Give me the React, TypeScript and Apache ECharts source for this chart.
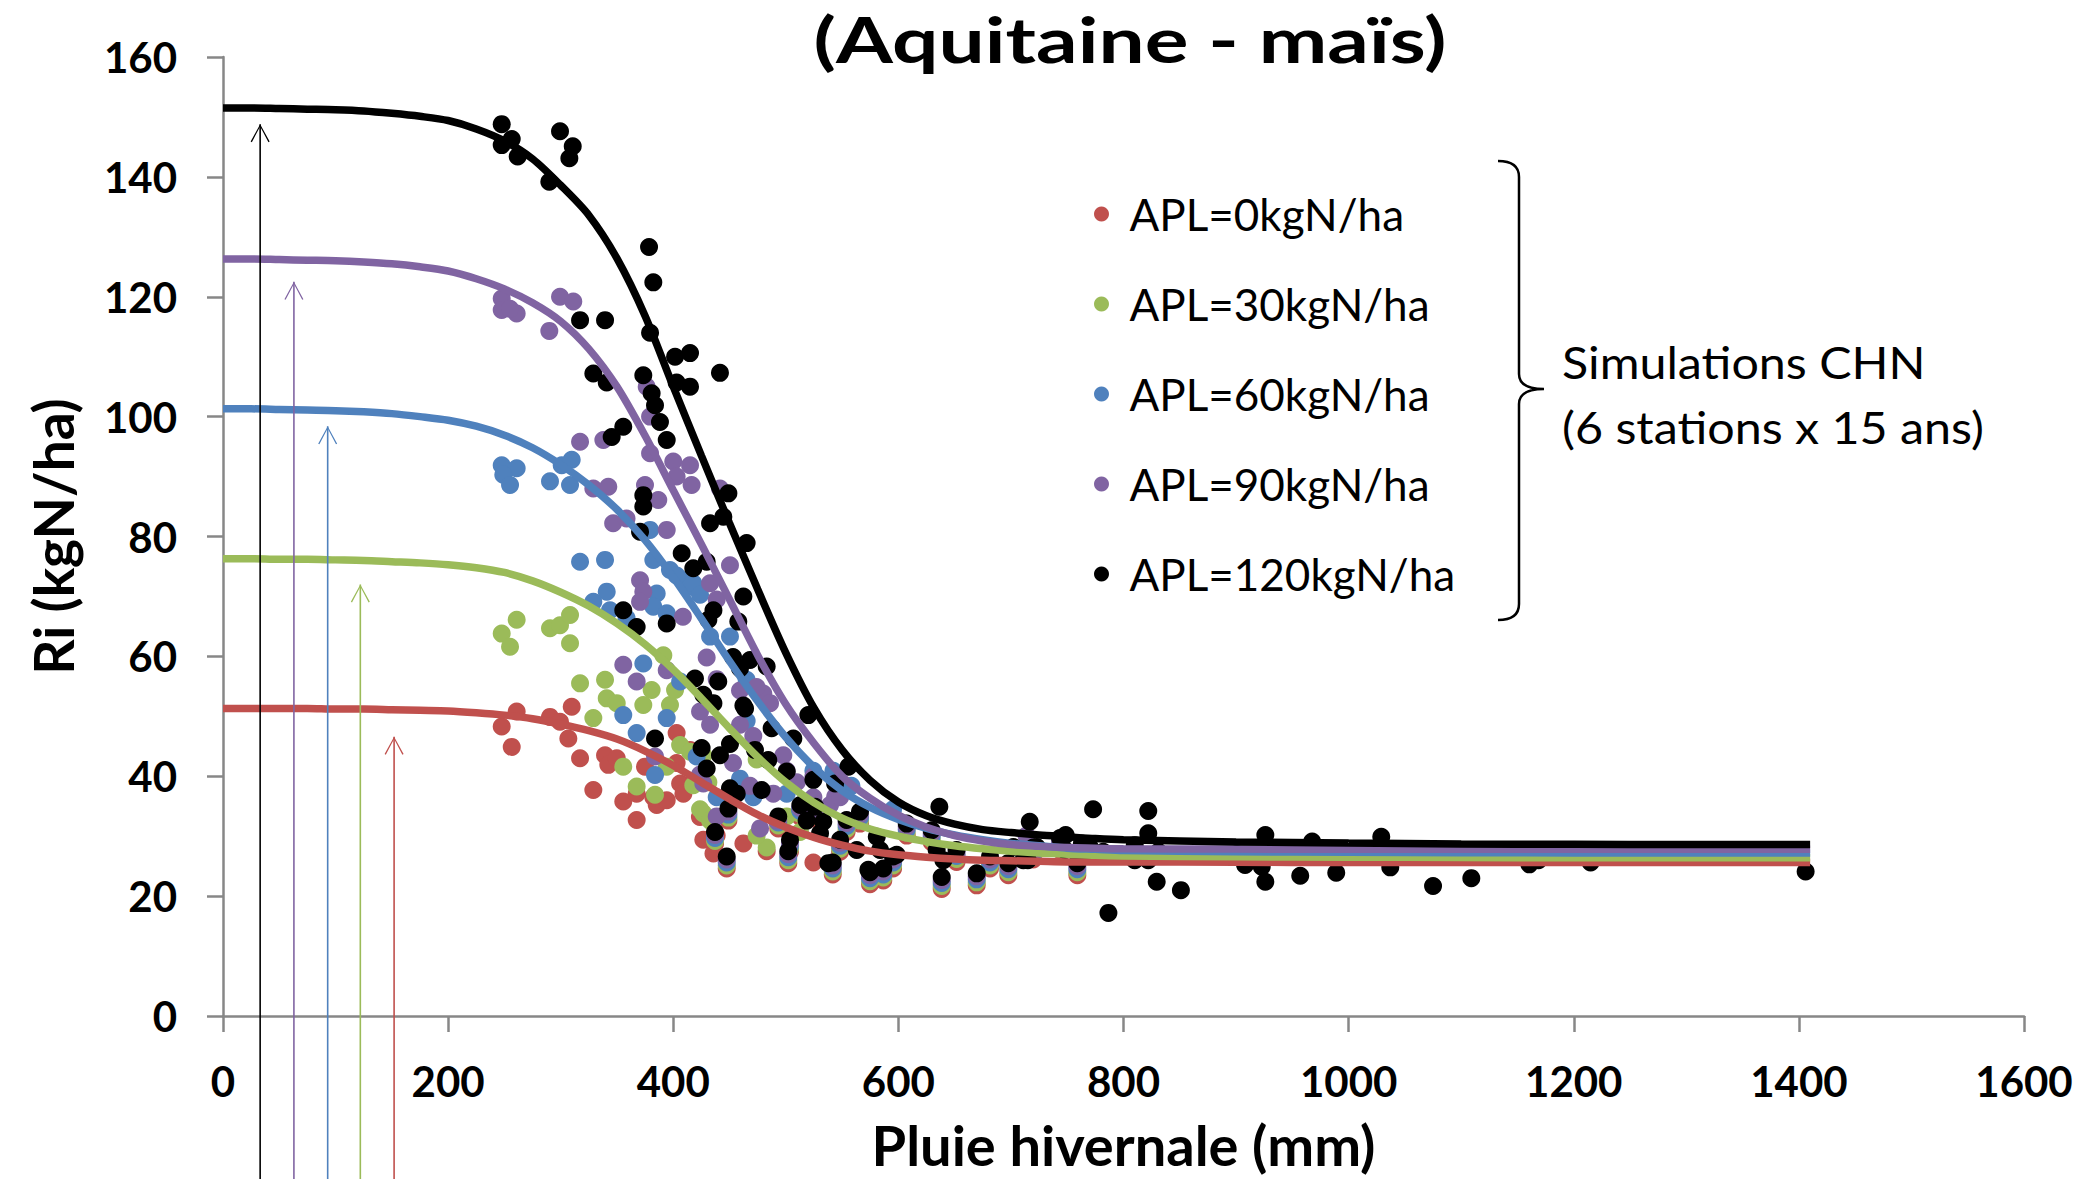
import React, { useEffect, useRef } from "react";
import * as echarts from "echarts";

// ---------------- DATA ----------------
const seriesNames = ["APL=0kgN/ha", "APL=30kgN/ha", "APL=60kgN/ha", "APL=90kgN/ha", "APL=120kgN/ha"];
const seriesColors = ["#C0504D", "#9BBB59", "#4F81BD", "#8064A2", "#000000"];

const titleText = "(Aquitaine - maïs)";
const xAxisName = "Pluie hivernale (mm)";
const yAxisName = "Ri (kgN/ha)";
const noteLines = ["Simulations CHN", "(6 stations x 15 ans)"];

// Simulated points (Pluie hivernale mm, Ri kgN/ha)
const apl0 = [
  [247.6, 48.3], [260.9, 50.8], [256.5, 44.9], [290.5, 49.9], [299.4, 49.1], [309.8, 51.6], [306.8, 46.3],
  [317.2, 43.0], [339.4, 43.5], [342.3, 41.9], [349.8, 43.0], [329.0, 37.7], [355.6, 35.8], [367.5, 32.7],
  [385.3, 35.2], [394.2, 36.0], [374.9, 41.6], [403.0, 47.2], [406.1, 38.8], [414.9, 44.4], [423.7, 33.2],
  [435.7, 27.1], [367.5, 37.1], [382.3, 36.5], [403.0, 42.2], [417.8, 39.0], [409.0, 37.1], [426.7, 29.4],
  [438.6, 30.1], [462.3, 28.8], [483.0, 27.5], [524.5, 25.6],
  [447.5, 24.6], [437.1, 28.7], [449.0, 32.6], [502.2, 25.5], [503.7, 27.4], [541.7, 23.6], [574.8, 22.0],
  [586.6, 22.6], [595.3, 24.6], [512.9, 33.2], [493.3, 31.3], [526.1, 32.9], [554.0, 30.7], [565.9, 32.1],
  [607.4, 30.1], [629.6, 29.0], [638.5, 21.2], [669.6, 21.8], [681.4, 24.6], [697.7, 23.5], [719.8, 26.1],
  [743.6, 27.7], [759.0, 23.5], [548.2, 27.4], [651.7, 25.7],
];
const apl30 = [
  [247.6, 63.8], [260.9, 66.1], [290.5, 64.7], [299.4, 65.2], [308.3, 66.9], [255.0, 61.6], [308.3, 62.2],
  [317.2, 55.5], [339.4, 56.1], [340.9, 53.0], [349.8, 52.2], [329.0, 49.7], [380.8, 54.4], [373.4, 51.9],
  [397.1, 51.9], [391.2, 60.2], [401.6, 54.4], [355.6, 41.6], [367.5, 38.3], [383.8, 36.9], [394.2, 41.6],
  [406.1, 45.2], [417.8, 38.5], [426.7, 33.8], [414.9, 44.1], [426.7, 43.5], [431.2, 39.0], [423.8, 34.5],
  [432.7, 32.6], [483.0, 28.1], [474.1, 42.8], [474.1, 30.1], [500.8, 33.3], [512.6, 30.7],
  [447.5, 25.1], [437.1, 29.2], [449.0, 33.1], [502.2, 26.0], [503.7, 27.9], [541.7, 24.1], [574.8, 22.5],
  [586.6, 23.1], [595.3, 25.1], [512.9, 33.7], [493.3, 31.8], [526.1, 33.4], [554.0, 31.2], [565.9, 32.6],
  [607.4, 30.6], [629.6, 29.5], [638.5, 21.7], [669.6, 22.3], [681.4, 25.1], [697.7, 24.0], [719.8, 26.6],
  [743.6, 28.2], [759.0, 24.0], [548.2, 27.9], [651.7, 26.2],
];
const apl60 = [
  [247.6, 91.9], [260.9, 91.4], [249.0, 90.3], [255.0, 88.6], [300.9, 91.9], [309.8, 92.8], [290.5, 89.2],
  [308.3, 88.6], [317.2, 75.8], [339.4, 76.1], [340.9, 70.8], [329.0, 69.1], [379.4, 81.1], [382.3, 76.1],
  [397.1, 74.4], [408.6, 72.7], [414.9, 71.6], [385.3, 70.5], [382.3, 68.3], [343.8, 67.7], [358.5, 66.4],
  [432.7, 63.3], [450.4, 63.3], [394.2, 67.2], [403.0, 73.5], [417.8, 72.2], [423.8, 70.3],
  [373.4, 58.8], [355.6, 50.2], [367.5, 47.2], [394.2, 49.7], [406.1, 55.8], [383.8, 40.2], [420.8, 43.3],
  [438.6, 36.5], [459.3, 39.6], [471.1, 36.5], [500.8, 37.1], [512.6, 34.5], [465.2, 49.2], [465.2, 56.1],
  [524.5, 40.9], [542.3, 40.9], [558.3, 38.4], [595.3, 34.5],
  [447.5, 25.6], [437.1, 29.7], [449.0, 33.6], [502.2, 26.5], [503.7, 28.4], [541.7, 24.6], [574.8, 23.0],
  [586.6, 23.6], [595.3, 25.6], [512.9, 34.2], [493.3, 32.3], [526.1, 33.9], [554.0, 31.7], [565.9, 33.1],
  [607.4, 31.1], [629.6, 30.0], [638.5, 22.2], [669.6, 22.8], [681.4, 25.6], [697.7, 24.5], [719.8, 27.1],
  [743.6, 28.7], [759.0, 24.5], [548.2, 28.4], [651.7, 26.7],
];
const apl90 = [
  [247.6, 119.7], [247.6, 117.8], [260.9, 117.2], [255.0, 118.0], [299.4, 120.0], [311.2, 119.2], [289.9, 114.3],
  [317.2, 95.8], [337.9, 96.1], [376.4, 105.0], [379.4, 100.0], [379.4, 93.9], [400.0, 92.5], [414.9, 91.9],
  [403.0, 90.0], [416.3, 88.6], [329.0, 88.0], [342.3, 88.3], [374.9, 88.6], [386.7, 86.1], [346.6, 82.2],
  [358.5, 83.0], [394.2, 81.1], [441.5, 88.0], [370.5, 72.7], [373.4, 70.8], [370.5, 69.1], [450.4, 75.2],
  [432.7, 72.2], [408.6, 66.6], [438.6, 69.5], [355.6, 58.6], [367.5, 55.8], [394.2, 57.7], [383.8, 43.3],
  [426.7, 38.8], [480.0, 53.8], [486.0, 52.2], [474.0, 54.9], [543.8, 36.6], [429.7, 59.8], [438.6, 56.2],
  [459.3, 54.3], [423.8, 50.8], [432.7, 48.6], [459.3, 48.6], [471.1, 46.7], [453.1, 42.2], [468.2, 38.4],
  [497.8, 43.5], [500.8, 40.9], [488.9, 37.1], [509.7, 39.0], [524.5, 36.5], [539.3, 35.2], [548.2, 36.5],
  [423.8, 40.3], [438.6, 33.3], [477.1, 31.3], [491.9, 32.6], [524.5, 40.0], [713.8, 30.1],
  [447.5, 26.1], [437.1, 30.2], [449.0, 34.1], [502.2, 27.0], [503.7, 28.9], [541.7, 25.1], [574.8, 23.5],
  [586.6, 24.1], [595.3, 26.1], [512.9, 34.7], [493.3, 32.8], [526.1, 34.4], [554.0, 32.2], [565.9, 33.6],
  [607.4, 31.6], [629.6, 30.5], [638.5, 22.7], [669.6, 23.3], [681.4, 26.1], [697.7, 25.0], [719.8, 27.6],
  [743.6, 29.2], [759.0, 25.0], [548.2, 28.9], [651.7, 27.2],
];
const apl120 = [
  [247.6, 148.8], [256.5, 146.3], [247.6, 145.3], [261.8, 143.4], [299.4, 147.6], [310.7, 145.1], [307.7, 143.1],
  [289.9, 139.2], [378.5, 128.3], [382.3, 122.4], [317.2, 116.1], [339.4, 116.1], [379.4, 114.0], [401.6, 110.0],
  [414.9, 110.6], [441.5, 107.3], [329.0, 107.2], [373.4, 106.9], [340.9, 105.7], [403.0, 105.7], [414.9, 105.0],
  [380.8, 103.9], [383.8, 101.9], [355.6, 98.3], [345.3, 96.6], [388.2, 99.1], [394.2, 96.1],
  [373.4, 86.9], [373.4, 85.0], [370.5, 80.8], [407.5, 77.2], [417.8, 74.7], [429.7, 75.8], [432.7, 82.2],
  [444.5, 83.3], [449.0, 87.2], [355.6, 67.7], [367.5, 64.9], [394.2, 65.5], [435.7, 67.7], [431.2, 66.1],
  [457.8, 65.8], [462.3, 70.0], [465.2, 78.9], [383.8, 46.3], [419.3, 56.3], [440.0, 55.8], [426.7, 53.6],
  [435.7, 52.2], [425.2, 44.7], [441.5, 43.5], [429.7, 41.3], [450.4, 38.0], [449.0, 34.6], [437.1, 30.7],
  [447.5, 26.6], [453.1, 59.9], [468.2, 59.4], [462.3, 51.8], [450.4, 45.4], [456.4, 37.1], [459.3, 58.0],
  [483.0, 58.3], [463.8, 51.3], [520.0, 50.2], [487.4, 48.0], [506.7, 46.3], [472.6, 44.4], [484.4, 42.7],
  [500.8, 40.8], [555.6, 41.6], [524.5, 39.4], [543.8, 38.8], [478.5, 37.7], [512.9, 35.2], [526.1, 34.9],
  [493.3, 33.3], [565.9, 34.1], [554.0, 32.7], [533.3, 32.4], [503.7, 29.4], [530.4, 30.5], [548.2, 29.4],
  [580.8, 29.9], [563.0, 27.7], [598.5, 26.9], [583.7, 27.7], [537.8, 25.5], [573.3, 24.4], [586.6, 24.6],
  [607.4, 32.1], [636.4, 34.9], [629.6, 31.0], [634.0, 27.7], [651.7, 27.7], [640.0, 26.0], [638.5, 23.2],
  [669.6, 23.8], [681.4, 26.6], [702.1, 28.2], [697.7, 25.5], [502.2, 27.5], [574.8, 24.0], [541.7, 25.6],
  [595.3, 26.6], [518.5, 32.6],
  [716.7, 32.4], [773.0, 34.5], [822.0, 34.2], [822.0, 30.5], [748.6, 30.2], [715.0, 26.0], [759.0, 25.5],
  [770.0, 28.2], [782.0, 27.4], [810.0, 28.5], [810.0, 26.0], [831.0, 27.4], [829.5, 22.4], [851.0, 21.0],
  [786.6, 17.2], [900.6, 27.0], [908.0, 25.2], [919.0, 26.6], [926.0, 30.2], [926.0, 22.4], [957.0, 23.4],
  [967.6, 29.1], [989.0, 23.9], [1029.0, 29.9], [1037.0, 24.8], [1075.0, 21.7], [1109.0, 23.0], [1160.6, 25.3],
  [1168.7, 26.0], [1215.0, 25.6], [1406.0, 24.1], [743.6, 29.7], [719.8, 28.1], [711.0, 26.0], [723.0, 28.2],
  [748.0, 27.7], [763.0, 28.8], [770.0, 27.1], [822.0, 26.0], [922.8, 24.9],
];

// Fitted curves (x in mm, y in kgN/ha)
const fit0 = [
  [0, 51.3], [25, 51.3], [50, 51.3], [75, 51.3], [100, 51.2], [125, 51.2], [150, 51.1], [175, 51.0],
  [200, 50.9], [225, 50.6], [250, 50.2], [275, 49.6], [300, 48.7], [325, 47.6], [350, 46.2], [375, 44.2],
  [400, 41.8], [425, 39.0], [450, 36.2], [475, 33.6], [500, 31.5], [525, 29.8], [550, 28.5], [575, 27.5],
  [600, 26.9], [625, 26.5], [650, 26.2], [675, 26.0], [700, 25.9], [725, 25.8], [750, 25.7], [775, 25.7],
  [800, 25.7], [900, 25.65], [1000, 25.6], [1100, 25.6], [1200, 25.6], [1300, 25.6], [1410, 25.6],
];
const fit30 = [
  [0, 76.3], [25, 76.3], [50, 76.2], [75, 76.2], [100, 76.1], [125, 76.0], [150, 75.8], [175, 75.6],
  [200, 75.3], [225, 74.8], [250, 74.0], [275, 72.6], [300, 70.7], [325, 68.4], [350, 65.5], [375, 62.0],
  [400, 57.8], [425, 53.0], [450, 48.0], [475, 43.2], [500, 39.0], [525, 35.6], [550, 33.0], [575, 31.2],
  [600, 30.0], [625, 29.1], [650, 28.4], [675, 27.9], [700, 27.5], [725, 27.2], [750, 27.0], [775, 26.8],
  [800, 26.7], [900, 26.55], [1000, 26.5], [1100, 26.45], [1200, 26.4], [1300, 26.4], [1410, 26.4],
];
const fit60 = [
  [0, 101.3], [25, 101.3], [50, 101.2], [75, 101.1], [100, 101.0], [125, 100.8], [150, 100.5], [175, 100.0],
  [200, 99.4], [225, 98.4], [250, 96.9], [275, 94.8], [300, 92.0], [325, 88.6], [350, 84.5], [375, 79.4],
  [400, 73.2], [425, 66.3], [450, 59.2], [475, 52.5], [500, 46.5], [525, 41.5], [550, 37.6], [575, 34.8],
  [600, 32.8], [625, 31.3], [650, 30.2], [675, 29.4], [700, 28.8], [725, 28.4], [750, 28.0], [775, 27.8],
  [800, 27.6], [900, 27.4], [1000, 27.3], [1100, 27.25], [1200, 27.2], [1300, 27.2], [1410, 27.2],
];
const fit90 = [
  [0, 126.3], [25, 126.3], [50, 126.2], [75, 126.1], [100, 126.0], [125, 125.8], [150, 125.5], [175, 125.0],
  [200, 124.3], [225, 123.0], [250, 121.3], [275, 119.0], [300, 115.9], [325, 111.3], [350, 105.0], [375, 96.8],
  [400, 87.7], [425, 78.7], [450, 69.5], [475, 60.2], [500, 52.0], [525, 45.5], [550, 40.0], [575, 36.3],
  [600, 33.5], [625, 31.5], [650, 30.1], [675, 29.2], [700, 28.6], [725, 28.3], [750, 28.1], [775, 28.0],
  [800, 27.9], [900, 27.85], [1000, 27.8], [1100, 27.8], [1200, 27.8], [1300, 27.8], [1410, 27.8],
];
const fit120 = [
  [0, 151.5], [25, 151.5], [50, 151.4], [75, 151.3], [100, 151.2], [125, 151.0], [150, 150.6], [175, 150.1],
  [200, 149.4], [225, 148.0], [250, 146.0], [275, 143.0], [300, 138.6], [325, 133.6], [350, 126.4], [375, 116.8],
  [400, 105.0], [425, 93.5], [450, 82.2], [475, 71.2], [500, 60.6], [525, 51.4], [550, 44.4], [575, 39.3],
  [600, 35.7], [625, 33.4], [650, 32.0], [675, 31.1], [700, 30.6], [725, 30.2], [750, 29.9], [775, 29.6],
  [800, 29.4], [900, 29.05], [1000, 28.85], [1100, 28.7], [1200, 28.65], [1300, 28.6], [1410, 28.6],
];

// Annotation arrows (x position, tip value), one per APL level
const arrowX = [152, 122, 93, 63, 33];
const arrowTip = [46.6, 72.0, 98.4, 122.5, 148.8];
const arrowBase = -30;

const scatterData = [apl0, apl30, apl60, apl90, apl120];
const fitData = [fit0, fit30, fit60, fit90, fit120];

// ---------------- SHAPES ----------------
echarts.graphic.registerShape(
  "brace",
  echarts.graphic.extendPath(
    "M1498,161 Q1519,161 1519,177 L1519,374 Q1519,389 1544,389 Q1519,389 1519,404 L1519,604 Q1519,620 1498,620",
    {}
  )
);

const FONT = "Lato";
const V_HEAD = "path://M0,18 L9.5,0 L19,18 L17.8,18.6 L9.5,2.4 L1.2,18.6 Z";

export default function App() {
  const ref = useRef<HTMLDivElement>(null);

  useEffect(() => {
    if (!ref.current) return;
    const chart = echarts.init(ref.current, null, { renderer: "svg" });

    const pairSeries: any[] = [];
    scatterData.forEach((d, i) => {
      pairSeries.push({
        name: seriesNames[i],
        type: "scatter",
        data: d,
        symbol: "circle",
        symbolSize: 18,
        itemStyle: { color: seriesColors[i], opacity: 1 },
      });
      pairSeries.push({
        name: "fit " + seriesNames[i],
        type: "line",
        data: fitData[i],
        smooth: 0.3,
        showSymbol: false,
        symbol: "none",
        silent: true,
        lineStyle: { color: seriesColors[i], width: 7.5 },
      });
    });

    const arrowSeries = arrowX.map((x, i) => ({
      name: "arrow " + seriesNames[i],
      type: "line",
      clip: false,
      silent: true,
      z: 6,
      showSymbol: true,
      lineStyle: { color: seriesColors[i], width: 1.6 },
      itemStyle: { color: seriesColors[i] },
      data: [
        { value: [x, arrowBase], symbol: "none" },
        { value: [x, arrowTip[i]], symbol: V_HEAD, symbolSize: [19, 18], symbolOffset: [0, 9] },
      ],
    }));

    chart.setOption({
      animation: false,
      backgroundColor: "#ffffff",
      textStyle: { fontFamily: FONT },
      grid: { left: 223, right: 58, top: 57, bottom: 163, containLabel: false, outerBoundsMode: "none" },
      xAxis: {
        type: "value",
        min: 0,
        max: 1600,
        interval: 200,
        name: xAxisName,
        nameLocation: "middle",
        nameGap: 100,
        nameTextStyle: { fontFamily: FONT, fontWeight: "bold", fontSize: 56, color: "#000" },
        axisLine: { show: true, onZero: false, lineStyle: { color: "#878787", width: 2.5 } },
        axisTick: { show: true, length: 16, lineStyle: { color: "#878787", width: 2.5 } },
        axisLabel: {
          fontFamily: FONT, fontWeight: "bold", fontSize: 42, color: "#000", margin: 44,
          formatter: (v: number) => String(v),
        },
        splitLine: { show: false },
      },
      yAxis: {
        type: "value",
        min: 0,
        max: 160,
        interval: 20,
        name: yAxisName,
        nameLocation: "middle",
        nameGap: 143,
        nameTextStyle: { fontFamily: FONT, fontWeight: "bold", fontSize: 55, color: "#000" },
        axisLine: { show: true, lineStyle: { color: "#878787", width: 2.5 } },
        axisTick: { show: true, length: 16, lineStyle: { color: "#878787", width: 2.5 } },
        axisLabel: {
          fontFamily: FONT, fontWeight: "bold", fontSize: 42, color: "#000", margin: 46,
          formatter: (v: number) => String(v),
        },
        splitLine: { show: false },
      },
      legend: {
        data: seriesNames,
        orient: "vertical",
        left: 1089,
        top: 184,
        itemWidth: 46,
        itemHeight: 15,
        itemGap: 40,
        icon: "circle",
        selectedMode: false,
        textStyle: { fontFamily: FONT, fontSize: 44, color: "#000", lineHeight: 50 },
      },
      graphic: [
        {
          type: "text",
          x: 1130,
          y: 2,
          scaleX: 1.28,
          style: {
            text: titleText,
            fontFamily: FONT,
            fontWeight: "bold",
            fontSize: 64,
            lineHeight: 72,
            fill: "#000",
            align: "center",
            verticalAlign: "top",
          },
        },
        {
          type: "brace",
          x: 0,
          y: 0,
          style: { stroke: "#000", lineWidth: 2.5, fill: "none" },
        },
        {
          type: "text",
          x: 1562,
          y: 362,
          scaleX: 1.1,
          style: { text: noteLines[0], fontFamily: FONT, fontSize: 44, fill: "#000", align: "left", verticalAlign: "middle" },
        },
        {
          type: "text",
          x: 1562,
          y: 427,
          scaleX: 1.1,
          style: { text: noteLines[1], fontFamily: FONT, fontSize: 44, fill: "#000", align: "left", verticalAlign: "middle" },
        },
      ],
      series: [...pairSeries, ...arrowSeries],
    });

    return () => chart.dispose();
  }, []);

  return (
    <div
      ref={ref}
      style={{ position: "absolute", left: 0, top: 0, width: 2082, height: 1179, background: "#fff" }}
    />
  );
}
